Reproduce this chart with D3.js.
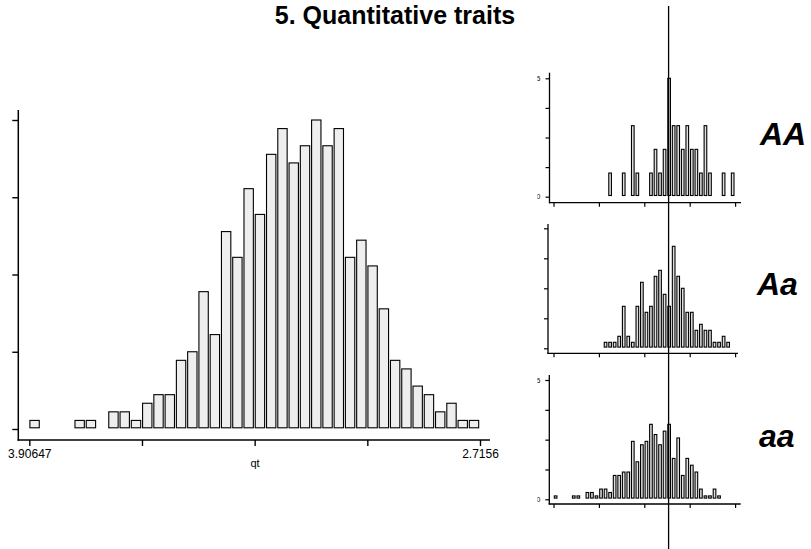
<!DOCTYPE html>
<html>
<head>
<meta charset="utf-8">
<script src="https://cdn.jsdelivr.net/npm/d3@7"></script>
<style>
  body { margin: 0; background: #fff; }
  svg { display: block; font-family: "Liberation Sans", Arial, sans-serif; }
</style>
</head>
<body>
<div id="chart"></div>
<script>
// histogram bins (40 equal classes of qt)
const binCount = 40;
const mainCounts = [1,0,0,0,1,1,0,2,2,1, 3,4,4,8,9,16,11,23,20,28,
                    25,32,35,31,33,36,33,35,20,22, 19,14,8,7,5,4,2,3,1,1];
const countsAA = [0,0,0,0,0,0,0,0,0,0, 0,0,1,0,0,1,0,3,1,0,
                  0,1,2,1,2,5,3,3,2,3, 2,2,1,3,1,0,0,1,0,1];
const countsAa = [0,0,0,0,0,0,0,0,0,0, 0,1,1,1,2,7,2,1,7,11,
                  6,7,12,13,9,7,17,12,10,6, 6,3,4,3,3,1,1,2,1,0];
const countsaa = [1,0,0,0,1,1,0,2,2,1, 3,3,2,7,7,8,8,17,11,16,
                  17,22,19,16,20,22,12,18,7,12, 10,8,3,1,1,3,1,0,0,0];
const genotypes = ["AA", "Aa", "aa"];
const xTickLabels = ["3.90647", "", "", "", "2.7156"];
const mainYTicks = [0, 9, 18, 27, 36];
const panelYMax = [5, 20, 35];
const panelYLabels = [["5", "0"], null, ["5", "0"]];
const markerBin = 25.35;

const W = 811, H = 549;
const svg = d3.select("#chart").append("svg")
    .attr("width", W).attr("height", H);

// title
svg.append("text")
    .attr("x", 395).attr("y", 24)
    .attr("text-anchor", "middle")
    .style("font-size", "25px").style("font-weight", "bold")
    .text("5. Quantitative traits");

// ---- main histogram ----
const x = d3.scaleLinear().domain([0, binCount]).range([29.3, 480]);
const y = d3.scaleLinear().domain([0, 36]).range([429, 120]);
const main = svg.append("g");
const step = x(1) - x(0);

main.selectAll("rect.bin")
    .data(mainCounts.map((c, i) => ({ i, c })).filter(d => d.c > 0))
    .join("rect")
    .attr("class", "bin")
    .attr("x", d => x(d.i) + 0.6)
    .attr("width", step - 1.9)
    .attr("y", d => y(d.c))
    .attr("height", d => y(0) - 1.2 - y(d.c))
    .attr("fill", "#eeeeee")
    .attr("stroke", "#000")
    .attr("stroke-width", 1.1);

// axis lines
main.append("line").attr("x1", 18.3).attr("x2", 18.3).attr("y1", 110).attr("y2", 440.7)
    .attr("stroke", "#000").attr("stroke-width", 1.5);
main.append("line").attr("x1", 17.6).attr("x2", 490).attr("y1", 440).attr("y2", 440)
    .attr("stroke", "#000").attr("stroke-width", 1.5);

const yAxis = main.append("g")
    .attr("transform", "translate(18.3,0)")
    .call(d3.axisLeft(y).tickValues(mainYTicks).tickSize(6).tickFormat(""));
yAxis.select(".domain").remove();

const xAxis = main.append("g")
    .attr("transform", "translate(0,440)")
    .call(d3.axisBottom(x).tickValues([0, 10, 20, 30, 40]).tickSize(6)
        .tickFormat((d, i) => xTickLabels[i]));
xAxis.select(".domain").remove();
xAxis.selectAll("line").attr("stroke-width", 1.4);
yAxis.selectAll("line").attr("stroke-width", 1.4);
xAxis.selectAll("text")
    .attr("y", 9)
    .style("font-size", "12px").style("font-family", "Liberation Sans, Arial, sans-serif")
    .attr("fill", "#000");

main.append("text")
    .attr("x", 255).attr("y", 467)
    .attr("text-anchor", "middle")
    .style("font-size", "11px")
    .text("qt");

// ---- genotype panels ----
const px = d3.scaleLinear().domain([0, binCount]).range([553.5, 735.1]);
const pstep = px(1) - px(0);
const panels = [
    { counts: countsAA, axisX: 549.5, top: 72.7, base: 196.7, topTick: 78.3, xAxisY: 202.7, right: 741, labelX: 760, labelY: 145 },
    { counts: countsAa, axisX: 548, top: 224, base: 348.3, topTick: 228.3, xAxisY: 353.3, right: 738, labelX: 757, labelY: 295 },
    { counts: countsaa, axisX: 549.3, top: 375, base: 499.3, topTick: 380, xAxisY: 504, right: 740.7, labelX: 759, labelY: 447 }
];

svg.append("clipPath").attr("id", "lblclip")
    .append("rect").attr("x", 537.4).attr("y", 0).attr("width", 30).attr("height", H);

panels.forEach((p, k) => {
    const g = svg.append("g");
    const py = d3.scaleLinear().domain([0, panelYMax[k]]).range([p.base, p.topTick]);

    g.selectAll("rect")
        .data(p.counts.map((c, i) => ({ i, c })).filter(d => d.c > 0))
        .join("rect")
        .attr("x", d => px(d.i) + 0.8)
        .attr("width", pstep - 1.9)
        .attr("y", d => py(d.c))
        .attr("height", d => py(0) - 1.2 - py(d.c))
        .attr("fill", "#e0e0e0")
        .attr("stroke", "#000")
        .attr("stroke-width", 1.1);

    g.append("line").attr("x1", p.axisX).attr("x2", p.axisX).attr("y1", p.top).attr("y2", p.xAxisY + 0.6)
        .attr("stroke", "#000").attr("stroke-width", 1.3);
    g.append("line").attr("x1", p.axisX - 0.6).attr("x2", p.right).attr("y1", p.xAxisY).attr("y2", p.xAxisY)
        .attr("stroke", "#000").attr("stroke-width", 1.3);

    const ya = g.append("g").attr("transform", `translate(${p.axisX},0)`)
        .call(d3.axisLeft(py).tickValues(d3.range(5).map(j => panelYMax[k] * j / 4))
            .tickSize(4).tickFormat(""));
    ya.select(".domain").remove();
    ya.selectAll("line").attr("stroke-width", 1.2);

    const xa = g.append("g").attr("transform", `translate(0,${p.xAxisY})`)
        .call(d3.axisBottom(px).tickValues([0, 10, 20, 30, 40]).tickSize(4).tickFormat(""));
    xa.select(".domain").remove();
    xa.selectAll("line").attr("stroke-width", 1.2);

    // tick labels are cut off at the panel's left edge
    if (panelYLabels[k]) {
        const lbl = g.append("g").attr("clip-path", "url(#lblclip)");
        lbl.append("text").attr("x", 540.5).attr("y", py(panelYMax[k]) + 2.5)
            .attr("text-anchor", "end").style("font-size", "7px").text(panelYLabels[k][0]);
        lbl.append("text").attr("x", 540.5).attr("y", py(0) + 2.5)
            .attr("text-anchor", "end").style("font-size", "7px").text(panelYLabels[k][1]);
    }

    svg.append("text")
        .attr("x", p.labelX).attr("y", p.labelY)
        .style("font-size", "32px").style("font-weight", "bold").style("font-style", "italic")
        .text(genotypes[k]);
});

// marker position line across the genotype panels
svg.append("line")
    .attr("x1", px(markerBin)).attr("x2", px(markerBin))
    .attr("y1", 6).attr("y2", H)
    .attr("stroke", "#000").attr("stroke-width", 1.3);
</script>
</body>
</html>
